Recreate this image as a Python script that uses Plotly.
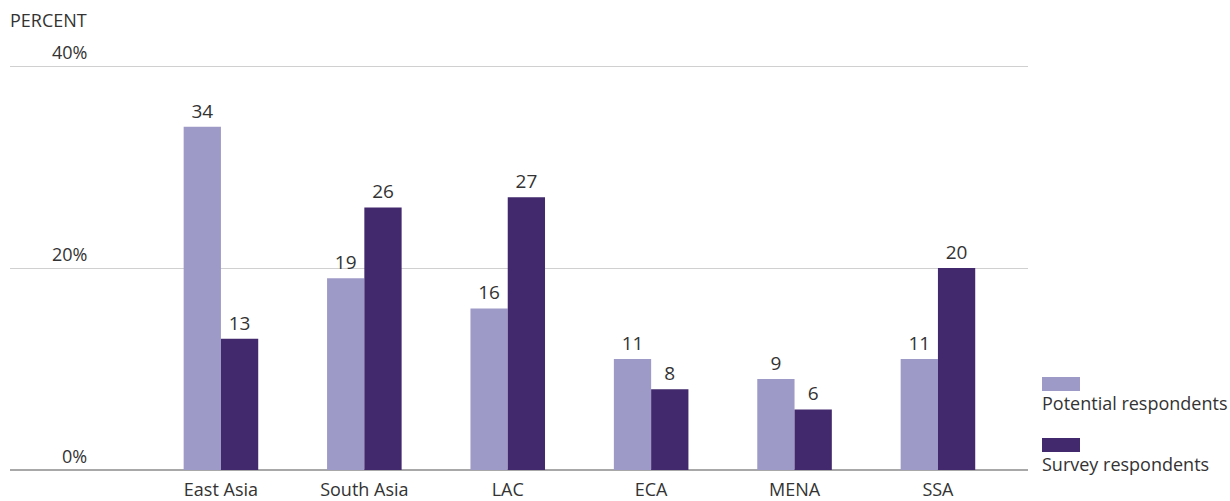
import plotly.graph_objects as go

regions = ["East Asia", "South Asia", "LAC", "ECA", "MENA", "SSA"]
potential = [34, 19, 16, 11, 9, 11]
survey = [13, 26, 27, 8, 6, 20]
y_ticks = [0, 20, 40]
y_tick_labels = ["0%", "20%", "40%"]

LIGHT = "#9e9ac8"
DARK = "#42286c"
TEXT = "#333333"
FONT = "Open Sans"
Y_TOP = 41  # a little headroom so the 40% gridline is drawn inside the plot

fig = go.Figure()
fig.add_trace(go.Bar(
    x=regions, y=potential, name="Potential respondents",
    marker=dict(color=LIGHT, line=dict(width=0)),
    text=potential, textposition="outside", cliponaxis=False,
    textfont=dict(size=19, color=TEXT, family=FONT),
))
fig.add_trace(go.Bar(
    x=regions, y=survey, name="Survey respondents",
    marker=dict(color=DARK, line=dict(width=0)),
    text=survey, textposition="outside", cliponaxis=False,
    textfont=dict(size=19, color=TEXT, family=FONT),
))

annotations = []
# y tick labels sit above their gridlines
for v, lab in zip(y_ticks, y_tick_labels):
    annotations.append(dict(
        x=0.0775, xref="paper", y=v, yref="y", text=lab, showarrow=False,
        xanchor="right", yanchor="bottom", yshift=0,
        font=dict(size=18, color=TEXT, family=FONT),
    ))
annotations.append(dict(
    x=0, xref="paper", y=40, yref="y", text="PERCENT", showarrow=False,
    xanchor="left", yanchor="bottom", yshift=32, xshift=-2,
    font=dict(size=18, color=TEXT, family=FONT),
))

# legend: swatch with its label underneath
PLOT_H = 414
shapes = []
legend_items = [("Potential respondents", LIGHT, 377), ("Survey respondents", DARK, 438)]
for name, col, top in legend_items:
    shapes.append(dict(
        type="rect", xref="paper", yref="paper",
        x0=(1042 - 10) / 1018, x1=(1080 - 10) / 1018,
        y0=(470 - top - 14) / PLOT_H, y1=(470 - top) / PLOT_H,
        fillcolor=col, line=dict(width=0),
    ))
    annotations.append(dict(
        x=(1040 - 10) / 1018, xref="paper", y=(470 - top - 12) / PLOT_H, yref="paper",
        text=name, showarrow=False, xanchor="left", yanchor="top",
        font=dict(size=18, color=TEXT, family=FONT),
    ))

fig.update_layout(
    width=1230, height=501,
    margin=dict(l=10, r=202, t=501 - 31 - PLOT_H, b=31),
    paper_bgcolor="white", plot_bgcolor="white",
    barmode="group", bargap=0.48, bargroupgap=0,
    showlegend=False,
    font=dict(family=FONT, size=18, color=TEXT),
    annotations=annotations, shapes=shapes,
    xaxis=dict(
        range=[-1.471, 5.628], showgrid=False, showline=False,
        ticks="", ticklabelstandoff=7, automargin=False,
        tickfont=dict(size=18, color=TEXT, family=FONT),
    ),
    yaxis=dict(
        range=[0, Y_TOP], tickvals=y_ticks, showticklabels=False,
        showgrid=True, gridcolor="#d0d0d0", gridwidth=1,
        zeroline=True, zerolinecolor="#a8a8a8", zerolinewidth=1.5,
        showline=False, ticks="", automargin=False,
    ),
)

fig.write_html("out.html")
